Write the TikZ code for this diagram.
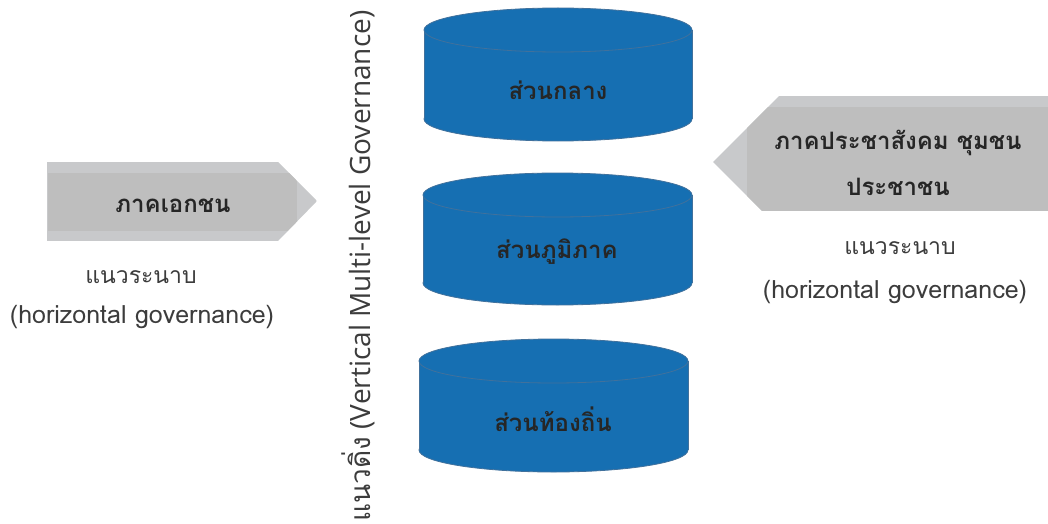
\documentclass[tikz,border=0pt]{standalone}
\usepackage{fontspec}
\setmainfont{Open Sans}
\newfontfamily\thai[Script=Thai]{Loma}
\usetikzlibrary{positioning}
\definecolor{cylfill}{RGB}{22,111,178}
\definecolor{cylline}{RGB}{65,113,156}
\definecolor{arrlight}{RGB}{200,201,203}
\definecolor{arrdark}{RGB}{190,190,190}
\definecolor{txt}{RGB}{38,38,38}
\definecolor{vtxt}{RGB}{60,60,60}
\tikzset{
  cyltext/.style={font=\thai\bfseries\fontsize{24}{28}\selectfont, text=txt, inner sep=0pt},
  arrtext/.style={font=\thai\bfseries\fontsize{24}{28}\selectfont, text=txt, inner sep=0pt},
  thtext/.style={font=\thai\fontsize{23}{27}\selectfont, text=vtxt, inner sep=0pt},
  entext/.style={font=\thai\fontsize{25}{29}\selectfont, text=vtxt, inner sep=0pt},
}
\newcommand{\cyl}[4]{% left, right, top centre y, bottom centre y
  \pgfmathsetmacro{\cx}{(#1+#2)/2}
  \pgfmathsetmacro{\rx}{(#2-#1)/2}
  \fill[cylfill,draw=cylline,line width=0.8pt] (\cx,#4) ellipse [x radius=\rx, y radius=22];
  \fill[cylfill] (#1,#3) rectangle (#2,#4);
  \draw[cylline,line width=0.8pt] (#1,#3) -- (#1,#4) (#2,#3) -- (#2,#4);
  \fill[cylfill,draw=cylline,line width=0.8pt] (\cx,#3) ellipse [x radius=\rx, y radius=22];
}
\begin{document}
\begin{tikzpicture}[x=1pt,y=-1pt]
\useasboundingbox (0,0) rectangle (1048,524);
\fill[white] (0,0) rectangle (1048,524);

% cylinders
\cyl{424}{692}{30}{119}
\cyl{423}{692}{195}{283}
\cyl{419}{688}{361}{450}
\node[cyltext] (c1) at (558,90) {ส่วนกลาง};
\node[cyltext] (c2) at (557,252) {ส่วนภูมิภาค};
\node[cyltext] (c3) at (553,419) {ส่วนท้องถิ่น};

% left arrow
\begin{scope}
  \path[clip] (47,162) -- (278,162) -- (317,201) -- (278,241) -- (47,241) -- cycle;
  \fill[arrlight] (47,162) rectangle (317,241);
  \fill[arrdark] (48,173) rectangle (297,231);
\end{scope}
\node[arrtext] (la) at (173,206) {ภาคเอกชน};
\node[thtext] (lh) at (141,277) {แนวระนาบ};
\node[entext] (le) at (142,317) {(horizontal governance)};

% right arrow
\begin{scope}
  \path[clip] (1048,96) -- (779,96) -- (713,162) -- (762,211) -- (1048,211) -- cycle;
  \fill[arrlight] (713,96) rectangle (1048,211);
  \fill[arrdark] (747,107) rectangle (1048,211);
\end{scope}
\node[arrtext] (ra1) at (898,143) {ภาคประชาสังคม ชุมชน};
\node[arrtext] (ra2) at (898,187) {ประชาชน};
\node[thtext] (rh) at (900,248) {แนวระนาบ};
\node[entext] (re) at (895,292) {(horizontal governance)};

% vertical label
\node[rotate=90, inner sep=0pt, text=vtxt, font=\fontsize{28}{32}\selectfont] (v) at (358,266)
  {{\thai แนวดิ่ง} (Vertical Multi-level Governance)};
\end{tikzpicture}
\end{document}
